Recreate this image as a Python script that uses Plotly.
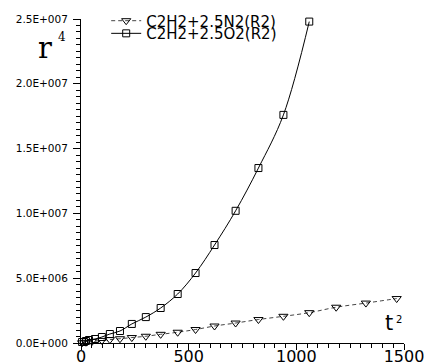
import plotly.graph_objects as go

# O2 series (squares)
x_o2 = [5, 14, 23, 37, 65, 97, 134, 181, 236, 301, 370, 449, 532, 620, 718, 824, 940, 1060]
y_o2 = [77e3, 77e3, 154e3, 231e3, 309e3, 463e3, 694e3, 926e3, 1.47e6, 2.0e6, 2.7e6,
        3.78e6, 5.4e6, 7.56e6, 1.02e7, 1.35e7, 1.76e7, 2.48e7]

# N2 series (triangles)
x_n2 = [5, 23, 51, 97, 134, 181, 236, 301, 370, 449, 532, 620, 718, 824, 940, 1060, 1185, 1323, 1466]
y_n2 = [15e3, 60e3, 120e3, 200e3, 260e3, 330e3, 420e3, 520e3, 670e3, 830e3, 1.04e6,
        1.31e6, 1.54e6, 1.81e6, 2.06e6, 2.34e6, 2.76e6, 3.08e6, 3.43e6]

y_ticks = [0, 5e6, 1e7, 1.5e7, 2e7, 2.5e7]
y_ticktext = ["0.0E+000", "5.0E+006", "1.0E+007", "1.5E+007", "2.0E+007", "2.5E+007"]
x_ticks = [0, 500, 1000, 1500]
x_ticktext = ["0", "500", "1000", "1500"]

fig = go.Figure()
fig.add_trace(go.Scatter(
    x=x_n2, y=y_n2, name="C2H2+2.5N2(R2)", mode="lines+markers",
    line=dict(color="#444444", width=1, dash="4px,3px", shape="spline"),
    marker=dict(symbol="triangle-down-open", size=8, color="black", line=dict(width=1)),
    cliponaxis=False, legend="legend",
))
fig.add_trace(go.Scatter(
    x=x_o2, y=y_o2, name="C2H2+2.5O2(R2)", mode="lines+markers",
    line=dict(color="black", width=1, shape="spline"),
    marker=dict(symbol="square-open", size=7, color="black", line=dict(width=1)),
    cliponaxis=False, legend="legend2",
))

leg_common = dict(xanchor="left", yanchor="middle", bgcolor="rgba(0,0,0,0)",
                  font=dict(size=15, family="DejaVu Sans"), itemwidth=30,
                  borderwidth=0)

fig.update_layout(
    width=425, height=362,
    margin=dict(l=81, r=21, t=19, b=19, autoexpand=False),
    paper_bgcolor="white", plot_bgcolor="white",
    font=dict(family="DejaVu Sans", color="black"),
    showlegend=True,
    legend=dict(x=0.078, y=0.994, **leg_common),
    legend2=dict(x=0.078, y=0.955, **leg_common),
    xaxis=dict(range=[0, 1500], tickmode="array", tickvals=x_ticks, ticktext=x_ticktext,
               showgrid=False, zeroline=False, showline=True, linecolor="black", linewidth=1,
               ticks="outside", ticklen=6, tickcolor="black", automargin=False,
               ticklabelstandoff=-7,
               minor=dict(dtick=50, ticks="outside", ticklen=4, tickcolor="black", showgrid=False),
               tickfont=dict(size=16, family="DejaVu Sans")),
    yaxis=dict(range=[0, 2.5e7], tickmode="array", tickvals=y_ticks, ticktext=y_ticktext,
               showgrid=False, zeroline=False, showline=True, linecolor="black", linewidth=1,
               ticks="outside", ticklen=7, tickcolor="black", automargin=False,
               ticklabelstandoff=3,
               minor=dict(dtick=5e5, ticks="outside", ticklen=4, tickcolor="black", showgrid=False),
               tickfont=dict(size=10.5, family="DejaVu Sans")),
)

fig.add_annotation(text="r", xref="paper", yref="paper", x=-0.111, y=0.912,
                   xanchor="center", yanchor="middle",
                   showarrow=False, font=dict(family="DejaVu Serif", size=29))
fig.add_annotation(text="4", xref="paper", yref="paper", x=-0.059, y=0.943,
                   xanchor="center", yanchor="middle",
                   showarrow=False, font=dict(family="DejaVu Serif", size=12))
fig.add_annotation(text="t", xref="paper", yref="paper", x=0.954, y=0.062,
                   xanchor="center", yanchor="middle",
                   showarrow=False, font=dict(family="DejaVu Sans", size=21))
fig.add_annotation(text="2", xref="paper", yref="paper", x=0.983, y=0.071,
                   xanchor="center", yanchor="middle",
                   showarrow=False, font=dict(family="DejaVu Sans", size=10))

fig.write_html("out.html", config={"displayModeBar": False},
               post_script="document.body.style.margin='0';document.body.style.overflow='hidden';")
